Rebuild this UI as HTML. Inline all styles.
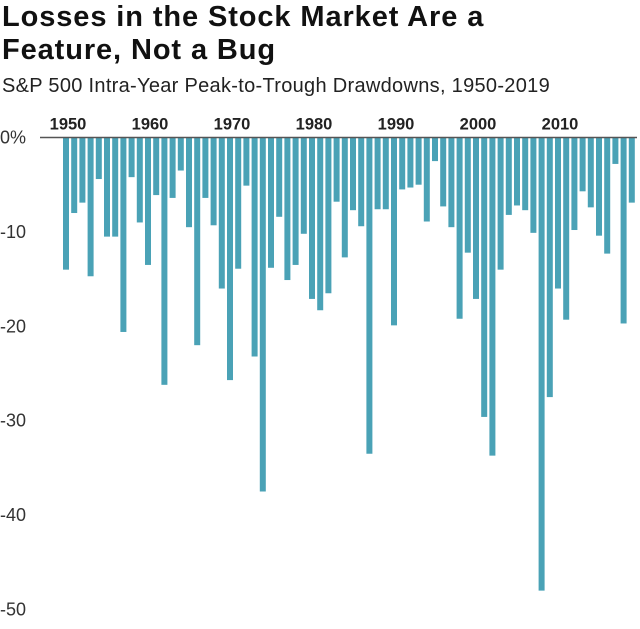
<!DOCTYPE html>
<html><head><meta charset="utf-8"><style>
body{margin:0;background:#fff;width:640px;height:629px;overflow:hidden;font-family:"Liberation Sans",sans-serif}
.t{position:absolute;left:2px;top:1px;font-size:29px;font-weight:bold;line-height:33px;color:#111;letter-spacing:0.9px}
.s{position:absolute;left:2px;top:75px;font-size:20px;color:#222;letter-spacing:0.3px}
</style></head><body>
<div class="t">Losses in the Stock Market Are a<br>Feature, Not a Bug</div>
<div class="s">S&amp;P 500 Intra-Year Peak-to-Trough Drawdowns, 1950-2019</div>
<svg id="c" width="640" height="629" style="position:absolute;left:0;top:0"></svg>
<script>
const years=[];for(let y=1950;y<=2019;y++)years.push(y);
const values=[-14,-8,-6.9,-14.7,-4.4,-10.5,-10.5,-20.6,-4.2,-9,-13.5,-6.1,-26.2,-6.4,-3.5,-9.5,-22,-6.4,-9.3,-16,-25.7,-13.9,-5.1,-23.2,-37.5,-13.8,-8.4,-15.1,-13.5,-10.2,-17.1,-18.3,-16.5,-6.8,-12.7,-7.7,-9.4,-33.5,-7.6,-7.6,-19.9,-5.5,-5.3,-5,-8.9,-2.5,-7.3,-9.5,-19.2,-12.2,-17.1,-29.6,-33.7,-14,-8.2,-7.2,-7.7,-10.1,-48,-27.5,-16,-19.3,-9.8,-5.7,-7.4,-10.4,-12.3,-2.8,-19.7,-6.9];
const yTicks=[0,-10,-20,-30,-40,-50];
const yTickLabels=["0%","-10","-20","-30","-40","-50"];
const xLabels=[1950,1960,1970,1980,1990,2000,2010];
const NS="http://www.w3.org/2000/svg",svg=document.getElementById('c');
const y0=137.5,k=9.44,x0=66,step=8.2,bw=6;
const Y=v=>y0-v*k, X=yr=>x0+(yr-1950)*step;
function el(t,a){const e=document.createElementNS(NS,t);for(const n in a)e.setAttribute(n,a[n]);svg.appendChild(e);return e;}
values.forEach((v,i)=>{const r=el('rect',{x:X(years[i])-bw/2,y:y0,width:bw,height:Y(v)-y0,fill:'#4aa2b6'});

});
const ax=el('line',{x1:40,x2:637,y1:y0,y2:y0,stroke:'#555','stroke-width':1.5});


yTicks.forEach((t,i)=>{const e=el('text',{x:0,y:Y(t)+6,'font-size':18,fill:'#333'});e.textContent=yTickLabels[i];

});
xLabels.forEach(yr=>{const e=el('text',{x:X(yr)+2,y:y0-8,'font-size':16.5,'font-weight':'bold','text-anchor':'middle',fill:'#222'});e.textContent=yr;

});
</script>
</body></html>
